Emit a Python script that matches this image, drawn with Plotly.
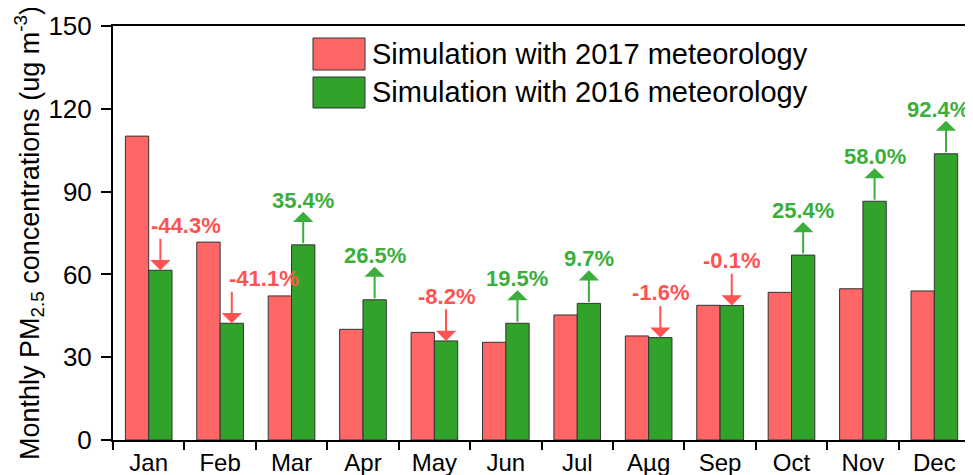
import plotly.graph_objects as go

# ---------------- data ----------------
months = ["Jan", "Feb", "Mar", "Apr", "May", "Jun", "Jul", "Aµg", "Sep", "Oct", "Nov", "Dec"]
sim_2017 = [110.1, 71.7, 52.2, 40.1, 39.0, 35.4, 45.3, 37.7, 48.8, 53.5, 54.8, 54.0]
sim_2016 = [61.5, 42.3, 70.7, 50.8, 35.9, 42.3, 49.5, 37.1, 48.75, 67.0, 86.5, 103.7]
pct_change = ["-44.3%", "-41.1%", "35.4%", "26.5%", "-8.2%", "19.5%", "9.7%",
              "-1.6%", "-0.1%", "25.4%", "58.0%", "92.4%"]
series_names = ["Simulation with 2017 meteorology", "Simulation with 2016 meteorology"]
y_ticks = [0, 30, 60, 90, 120, 150]

# ---------------- style ----------------
RED_BAR = "#FF6666"
GREEN_BAR = "#31A22A"
RED_TXT = "#FF5252"
GREEN_TXT = "#3BAE3B"
FONT = "Arial, Liberation Sans, sans-serif"
label_xshift = {0: 26, 1: 32, 11: -8}
ARROW_LEN = 12  # in data units
BARGAP = 0.347
green_offset = (1 - BARGAP) / 4

fig = go.Figure()
fig.add_trace(go.Bar(x=months, y=sim_2017, name=series_names[0],
                     marker=dict(color=RED_BAR, line=dict(color="#333333", width=1))))
fig.add_trace(go.Bar(x=months, y=sim_2016, name=series_names[1],
                     marker=dict(color=GREEN_BAR, line=dict(color="#333333", width=1))))

annotations = []
for i, (r, g, lab) in enumerate(zip(sim_2017, sim_2016, pct_change)):
    up = not lab.startswith("-")
    col = GREEN_TXT if up else RED_TXT
    xg = i + green_offset
    top = g + ARROW_LEN
    if up:
        annotations.append(dict(x=xg, y=top, ax=xg, ay=g, xref="x", yref="y",
                                axref="x", ayref="y", text="", showarrow=True,
                                arrowhead=1, arrowsize=1.7, arrowwidth=2, arrowcolor=col))
    else:
        annotations.append(dict(x=xg, y=g, ax=xg, ay=top, xref="x", yref="y",
                                axref="x", ayref="y", text="", showarrow=True,
                                arrowhead=1, arrowsize=1.7, arrowwidth=2, arrowcolor=col))
    annotations.append(dict(x=xg, y=top, xref="x", yref="y", text="<b>%s</b>" % lab,
                            showarrow=False, yanchor="bottom", xanchor="center",
                            xshift=label_xshift.get(i, 0), yshift=-3,
                            font=dict(family=FONT, size=22, color=col)))

# legend (custom, large swatches)
legend_cols = [RED_BAR, GREEN_BAR]
legend_rows = [(0.8937, 0.9710, 0.9324), (0.8019, 0.8768, 0.8394)]
shapes = []
for (y0, y1, yc), col, name in zip(legend_rows, legend_cols, series_names):
    shapes.append(dict(type="rect", xref="paper", yref="paper", x0=0.2331, x1=0.2937,
                       y0=y0, y1=y1, fillcolor=col, line=dict(color="#333333", width=1)))
    annotations.append(dict(x=0.2995, y=yc, xref="paper", yref="paper", text=name,
                            showarrow=False, xanchor="left", yanchor="middle",
                            font=dict(family=FONT, size=29, color="black")))

# page body has an 8px margin, so the figure is sized to fill the rest of the window
fig.update_layout(
    width=965, height=467,
    margin=dict(l=105, r=2, t=18, b=35, autoexpand=False),
    plot_bgcolor="white", paper_bgcolor="white",
    barmode="group", bargap=BARGAP, bargroupgap=0,
    showlegend=False,
    annotations=annotations, shapes=shapes,
    font=dict(family=FONT, color="black"),
)
fig.update_xaxes(
    type="category", tickson="boundaries", ticks="outside", ticklen=8, tickwidth=2,
    tickcolor="black", showline=True, linecolor="black", linewidth=2, mirror=True,
    tickfont=dict(family=FONT, size=24, color="black"), showgrid=False, automargin=False,
)
fig.update_yaxes(
    range=[0, 150], tickvals=y_ticks, ticks="outside", ticklen=10, tickwidth=2,
    tickcolor="black", showline=True, linecolor="black", linewidth=2, mirror=True,
    tickfont=dict(family=FONT, size=26, color="black"), showgrid=False, zeroline=False,
    ticklabelstandoff=4, automargin=False,
    title=dict(text="Monthly PM<sub>2.5</sub> concentrations (ug m<sup>-3</sup>)",
               font=dict(family=FONT, size=27, color="black"), standoff=0),
)

fig.write_html("out.html")
